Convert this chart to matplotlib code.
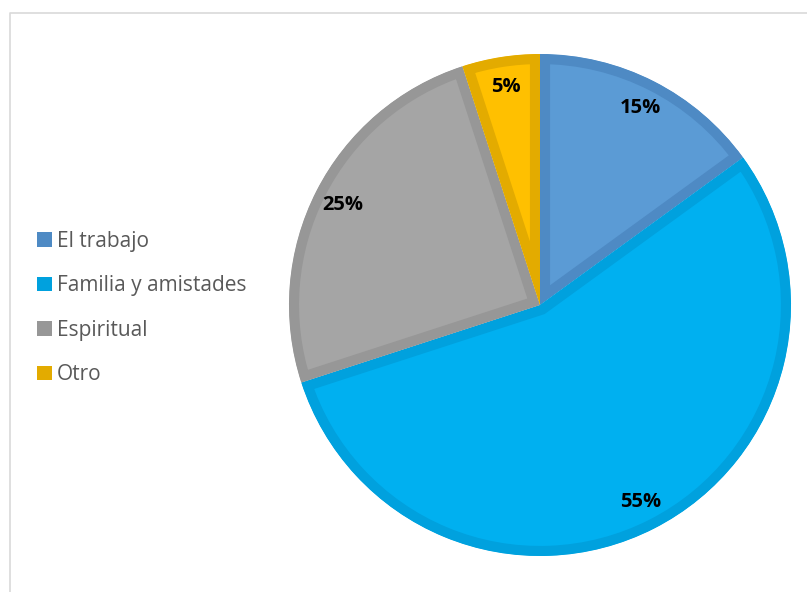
import matplotlib.pyplot as plt
from matplotlib.patches import Patch
from matplotlib.lines import Line2D

labels = ['El trabajo', 'Familia y amistades', 'Espiritual', 'Otro']
values = [15, 55, 25, 5]
fills = ['#5B9BD5', '#00B0F0', '#A5A5A5', '#FFC000']
edges = ['#4E8AC4', '#00A1DE', '#979797', '#E3AB00']

W, H = 807, 592
fig = plt.figure(figsize=(W / 100, H / 100), dpi=100)
ax = fig.add_axes([0, 0, 1, 1])

cx, cy, r = 540, H - 305, 251
wedges, texts, autotexts = ax.pie(
    values, colors=fills, startangle=90, counterclock=False,
    center=(cx, cy), radius=r, autopct='%1.0f%%', pctdistance=0.88,
    textprops=dict(fontsize=14.5, fontweight='bold', color='black',
                   family=['Open Sans', 'DejaVu Sans']),
    wedgeprops=dict(linewidth=14.5))

# thick border kept only on the inside of each slice
for w, ec in zip(wedges, edges):
    w.set_edgecolor(ec)
    w.set_clip_on(True)
    w.set_clip_path(w)

ax.set_xlim(0, W)
ax.set_ylim(0, H)
ax.set_aspect('equal')
ax.axis('off')

handles = [Patch(facecolor=ec, edgecolor='none') for ec in edges]
leg = ax.legend(handles, labels, loc='center left',
                bbox_to_anchor=(37 / W, 1 - 308 / H),
                bbox_transform=fig.transFigure, frameon=False,
                prop=dict(family=['Open Sans', 'DejaVu Sans'], size=15),
                handlelength=0.72, handleheight=0.72, handletextpad=0.25,
                labelspacing=1.13, borderpad=0, borderaxespad=0)
for t in leg.get_texts():
    t.set_color('#595959')

# chart area border
fig.add_artist(Line2D([10 / W, 10 / W, 1], [0, 1 - 13 / H, 1 - 13 / H],
                      transform=fig.transFigure, color='#D9D9D9', lw=1.2))

fig.savefig('out.png', dpi=100)
